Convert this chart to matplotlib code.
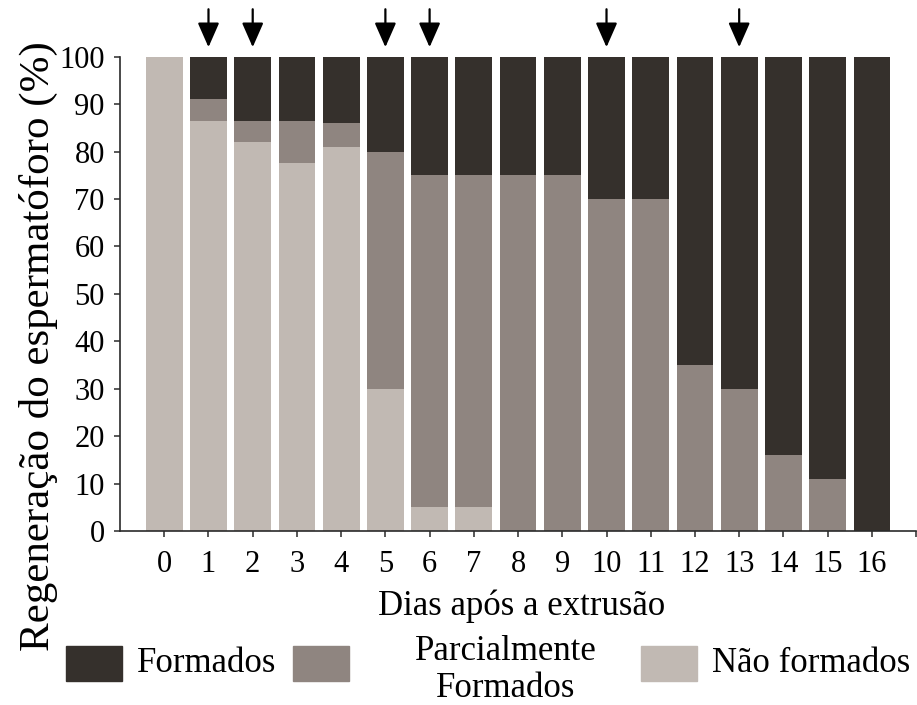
import numpy as np
import matplotlib.pyplot as plt
from matplotlib.patches import Rectangle

# percentages, per day after extrusion
dias = list(range(17))
nao_formados = [100, 86.5, 82, 77.5, 81, 30, 5, 5, 0, 0, 0, 0, 0, 0, 0, 0, 0]
parcialmente = [0, 4.5, 4.5, 9, 5, 50, 70, 70, 75, 75, 70, 70, 35, 30, 16, 11, 0]
formados = [0, 9, 13.5, 13.5, 14, 20, 25, 25, 25, 25, 30, 30, 65, 70, 84, 89, 100]
dias_seta = [1, 2, 5, 6, 10, 13]

c_form = '#35302c'
c_parc = '#8f8580'
c_nao = '#c1b9b3'

plt.rcParams['font.family'] = ['Liberation Serif', 'DejaVu Serif']

fig = plt.figure(figsize=(9.17, 7.05), dpi=100)
ax = fig.add_axes([0.1309, 0.2468, 0.8681, 0.6728])

nao = np.array(nao_formados)
parc = np.array(parcialmente)
form = np.array(formados)
w = 0.83
ax.bar(dias, nao, width=w, color=c_nao)
ax.bar(dias, parc, width=w, bottom=nao, color=c_parc)
ax.bar(dias, form, width=w, bottom=nao + parc, color=c_form)

for d in dias_seta:
    ax.annotate('', xy=(d, 102), xytext=(d, 110), annotation_clip=False,
                arrowprops=dict(arrowstyle='-|>,head_length=0.75,head_width=0.33',
                                color='black', lw=1.6, shrinkA=0, shrinkB=0,
                                mutation_scale=20))

ax.set_xlim(-1, 17)
ax.set_ylim(0, 100)
ax.set_xticks(list(range(18)))
ax.set_xticklabels([str(d) for d in dias] + [''])
ax.set_yticks(range(0, 101, 10))
for s in ['top', 'right']:
    ax.spines[s].set_visible(False)
for s in ['left', 'bottom']:
    ax.spines[s].set_linewidth(1.2)
    ax.spines[s].set_color('#2a2a2a')
ax.tick_params(axis='both', labelsize=22, length=4, width=1.1, color='#2a2a2a')
ax.tick_params(axis='y', pad=7)
ax.tick_params(axis='x', pad=10)

fig.text(522 / 917, 1 - 606 / 705, 'Dias após a extrusão', fontsize=25,
         ha='center', va='center')
fig.text(38 / 917, 1 - 346 / 705, 'Regeneração do espermatóforo (%)',
         fontsize=31, rotation=90, ha='center', va='center')

# legend drawn by hand to keep the two-line middle label
W, H = 917, 705
for x0, col in [(66, c_form), (293, c_parc), (641, c_nao)]:
    fig.add_artist(Rectangle((x0 / W, 1 - 681 / H), 56 / W, 35 / H,
                             transform=fig.transFigure, color=col))
fig.text(137 / W, 1 - 663 / H, 'Formados', fontsize=25, ha='left', va='center')
fig.text(506 / W, 1 - 670 / H, 'Parcialmente\nFormados', fontsize=25,
         ha='center', va='center', linespacing=1.15)
fig.text(712 / W, 1 - 663 / H, 'Não formados', fontsize=25, ha='left', va='center')

plt.savefig('out.png', dpi=100)
plt.close()
